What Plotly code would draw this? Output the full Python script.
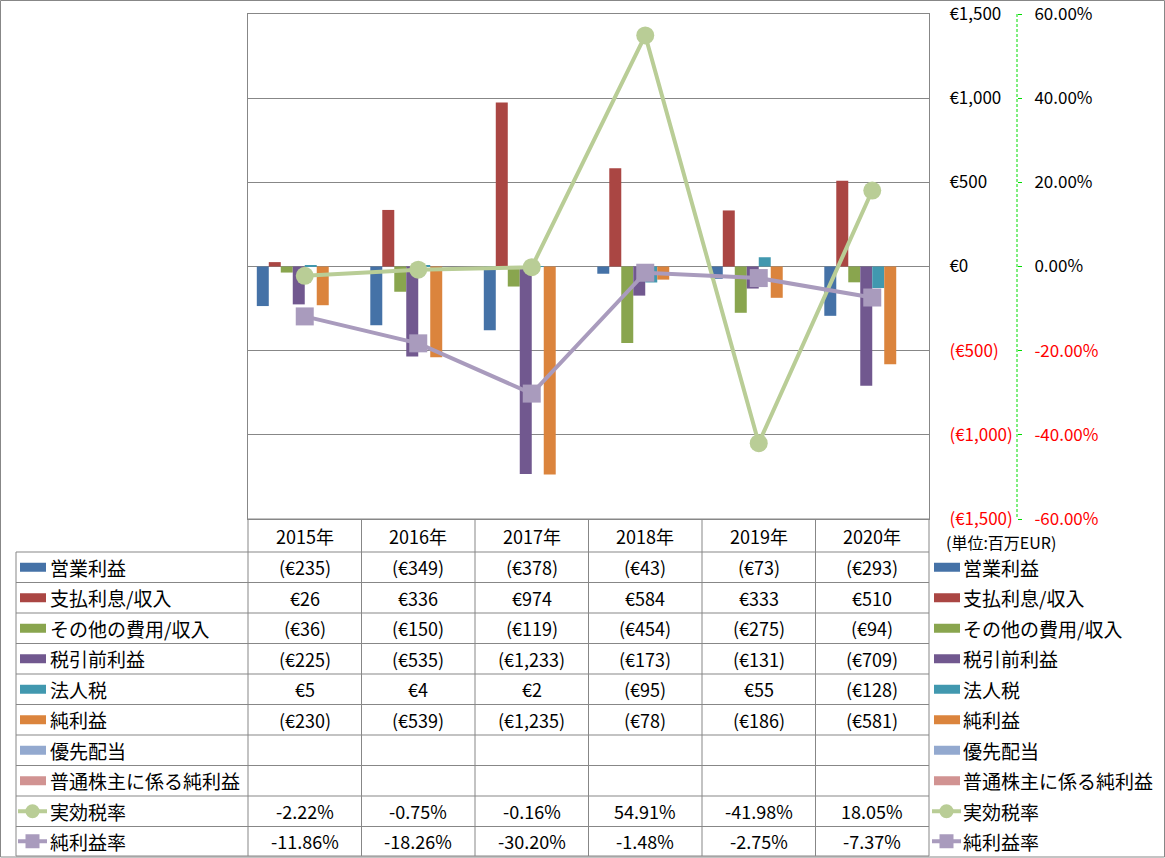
import plotly.graph_objects as go

# ---------------- data ----------------
years = ["2015年", "2016年", "2017年", "2018年", "2019年", "2020年"]
bar_names = ["営業利益", "支払利息/収入", "その他の費用/収入", "税引前利益", "法人税", "純利益",
             "優先配当", "普通株主に係る純利益"]
operating_income = [-235, -349, -378, -43, -73, -293]
interest = [26, 336, 974, 584, 333, 510]
other_expense = [-36, -150, -119, -454, -275, -94]
pretax_income = [-225, -535, -1233, -173, -131, -709]
income_tax = [5, 4, 2, -95, 55, -128]
net_income = [-230, -539, -1235, -78, -186, -581]
preferred_div = [None] * 6
net_income_common = [None] * 6
line_names = ["実効税率", "純利益率"]
effective_tax_rate = [-2.22, -0.75, -0.16, 54.91, -41.98, 18.05]
net_margin = [-11.86, -18.26, -30.20, -1.48, -2.75, -7.37]

eur_ticks = [-1500, -1000, -500, 0, 500, 1000, 1500]
eur_labels = ["(€1,500)", "(€1,000)", "(€500)", "€0", "€500", "€1,000", "€1,500"]
pct_ticks = [-60, -40, -20, 0, 20, 40, 60]
pct_labels = ["-60.00%", "-40.00%", "-20.00%", "0.00%", "20.00%", "40.00%", "60.00%"]
unit_label = "(単位:百万EUR)"

bar_series = [operating_income, interest, other_expense, pretax_income, income_tax,
              net_income, preferred_div, net_income_common]
bar_colors = ["#4572A7", "#AA4643", "#89A54E", "#71588F", "#4198AF", "#DB843D",
              "#93A9CF", "#D19392"]
line_series = [effective_tax_rate, net_margin]
line_colors = ["#B9CD96", "#A99BBD"]
line_symbols = ["circle", "square"]

# ---------------- layout helpers ----------------
W, H = 1165, 858
FONT = "Noto Sans CJK JP"
GRID = "#878787"


def px(x):
    return x / W


def py(y):
    return 1 - y / H


PL, PR, PT, PB = 248, 929, 14, 519

fig = go.Figure()

for name, vals, col in zip(bar_names, bar_series, bar_colors):
    fig.add_trace(go.Bar(x=years, y=vals, name=name, marker_color=col,
                         marker_line_width=0, yaxis="y", showlegend=False))

for name, vals, col, sym in zip(line_names, line_series, line_colors, line_symbols):
    fig.add_trace(go.Scatter(x=years, y=vals, name=name, mode="lines+markers",
                             line=dict(color=col, width=4),
                             marker=dict(symbol=sym, size=18, color=col,
                                         line=dict(width=0)),
                             yaxis="y2", showlegend=False))


def red_if_neg(labels):
    out = []
    for t in labels:
        if t.startswith("(") or t.startswith("-"):
            out.append('<span style="color:#FF0000">' + t + "</span>")
        else:
            out.append(t)
    return out


fig.update_layout(
    width=W, height=H,
    margin=dict(l=0, r=0, t=0, b=0, autoexpand=False),
    paper_bgcolor="white", plot_bgcolor="white",
    font=dict(family=FONT, size=17, color="#000000"),
    barmode="group", bargap=0.155, bargroupgap=0,
    xaxis=dict(domain=[px(PL), px(PR)], showticklabels=False, ticks="",
               showgrid=False, showline=True, linecolor=GRID, mirror=True,
               zeroline=False, automargin=False),
    yaxis=dict(domain=[py(PB), py(PT)], range=[-1500, 1500], side="right",
               tickvals=eur_ticks, ticktext=red_if_neg(eur_labels),
               ticks="outside", ticklen=16, tickcolor="rgba(0,0,0,0)",
               showgrid=True, gridcolor=GRID, gridwidth=1,
               zeroline=True, zerolinecolor=GRID, zerolinewidth=1,
               showline=True, linecolor=GRID, mirror=True, automargin=False,
               ticklabeloverflow="allow", tickfont=dict(size=17)),
    yaxis2=dict(overlaying="y", side="right", anchor="free", position=px(1017),
                range=[-60, 60], tickvals=pct_ticks, ticktext=red_if_neg(pct_labels),
                ticks="outside", ticklen=4, tickcolor="#00DD00",
                ticklabelstandoff=9, automargin=False, ticklabeloverflow="allow",
                showgrid=False, zeroline=False, showline=False,
                tickfont=dict(size=17)),
)

shapes = []
annotations = []


def hline(x0, x1, y, color=GRID, width=1, dash=None):
    d = dict(type="line", xref="paper", yref="paper", x0=px(x0), x1=px(x1),
             y0=py(y), y1=py(y), line=dict(color=color, width=width))
    if dash:
        d["line"]["dash"] = dash
    shapes.append(d)


def vline(x, y0, y1, color=GRID, width=1, dash=None):
    d = dict(type="line", xref="paper", yref="paper", x0=px(x), x1=px(x),
             y0=py(y0), y1=py(y1), line=dict(color=color, width=width))
    if dash:
        d["line"]["dash"] = dash
    shapes.append(d)


def text(x, y, s, anchor="center", size=18, color="#000000"):
    annotations.append(dict(x=px(x), y=py(y), xref="paper", yref="paper", text=s,
                            showarrow=False, xanchor=anchor, yanchor="middle",
                            font=dict(size=size, color=color, family=FONT)))


# outer frame
shapes.append(dict(type="rect", xref="paper", yref="paper", x0=px(0.5), x1=px(W - 0.5),
                   y0=py(0.5), y1=py(H - 1), line=dict(color=GRID, width=1)))

# secondary axis dashed line
vline(1017, PT, PB, color="#00DD00", width=1, dash="3px,2px")

# unit label
text(944, 542, unit_label, anchor="left", size=16)

# ---------------- data table ----------------
col_edges = [248, 361.5, 475, 588.5, 702, 815.5, 929]
row_edges = [519, 552, 582.5, 613, 643.5, 674, 704.5, 735, 765.5, 796, 826.5, 856]
TL = 16

# horizontal lines
hline(col_edges[0], col_edges[-1], row_edges[0])
for y in row_edges[1:]:
    hline(TL, col_edges[-1], y)
# vertical lines
vline(TL, row_edges[1], row_edges[-1])
for x in col_edges:
    vline(x, row_edges[0], row_edges[-1])

centers_x = [(col_edges[i] + col_edges[i + 1]) / 2 for i in range(6)]
row_cy = [(row_edges[i] + row_edges[i + 1]) / 2 for i in range(len(row_edges) - 1)]

for cx, yr in zip(centers_x, years):
    text(cx, row_cy[0], yr)


def fmt_eur(v):
    if v is None:
        return ""
    s = "€{:,}".format(abs(v))
    return "(" + s + ")" if v < 0 else s


all_names = bar_names + line_names
all_colors = bar_colors + line_colors
for r, vals in enumerate(bar_series):
    for cx, v in zip(centers_x, vals):
        text(cx, row_cy[r + 1], fmt_eur(v))
for k, vals in enumerate(line_series):
    for cx, v in zip(centers_x, vals):
        text(cx, row_cy[len(bar_series) + 1 + k], "{:.2f}%".format(v))


def legend_key(x0, cy, idx):
    col = all_colors[idx]
    if idx < len(bar_names):
        shapes.append(dict(type="rect", xref="paper", yref="paper",
                           x0=px(x0 + 2), x1=px(x0 + 28), y0=py(cy - 4.5), y1=py(cy + 4.5),
                           fillcolor=col, line=dict(width=0)))
    else:
        shapes.append(dict(type="line", xref="paper", yref="paper",
                           x0=px(x0), x1=px(x0 + 29), y0=py(cy), y1=py(cy),
                           line=dict(color=col, width=4)))
        mx = x0 + 14.5
        kind = "circle" if line_symbols[idx - len(bar_names)] == "circle" else "rect"
        shapes.append(dict(type=kind, xref="paper", yref="paper",
                           x0=px(mx - 7), x1=px(mx + 7), y0=py(cy - 7), y1=py(cy + 7),
                           fillcolor=col, line=dict(width=0)))


for i, name in enumerate(all_names):
    cy = row_cy[i + 1]
    legend_key(18, cy, i)
    text(48, cy, name, anchor="left", size=19)
    legend_key(932, cy, i)
    text(961, cy, name, anchor="left", size=19)

fig.update_layout(shapes=shapes, annotations=annotations)
fig.write_html("out.html", config={"displayModeBar": False},
               post_script="document.body.style.margin='0px';")
